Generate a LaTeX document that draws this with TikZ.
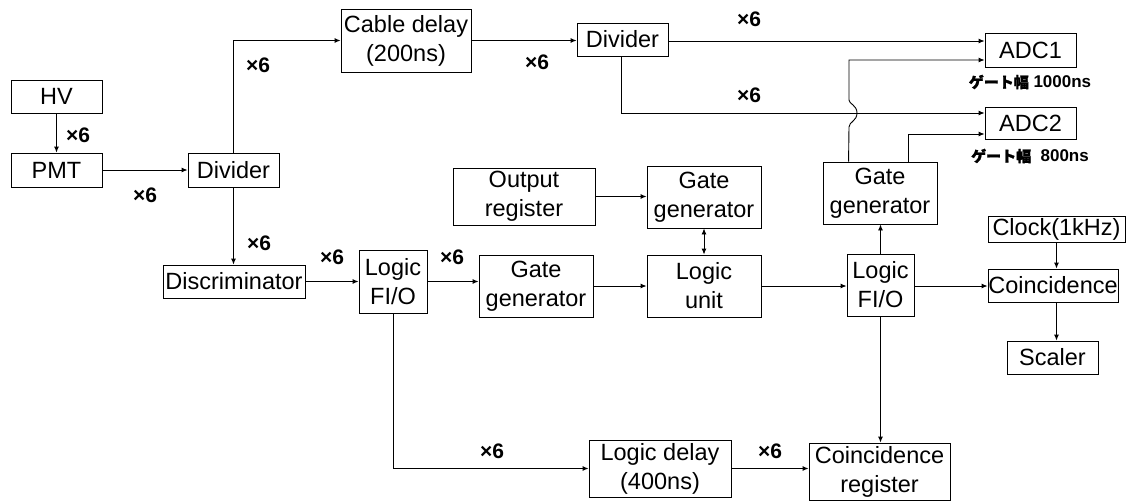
\documentclass[tikz,border=0pt]{standalone}
\usepackage{fontspec}
\setmainfont{Liberation Sans}
\newfontfamily\jp[FakeBold=1.5]{Noto Sans CJK JP}
\usetikzlibrary{arrows.meta,calc}
\newcommand{\jgate}{{\jp\fontsize{15}{17}\selectfont ゲート幅}}
\begin{document}
\begin{tikzpicture}[x=1pt,y=-1pt,
  box/.style={draw, line width=0.9pt, inner sep=0pt, align=center, font=\fontsize{23.5}{29}\selectfont},
  xsix/.style={font=\fontsize{21}{24}\selectfont\bfseries, inner sep=0pt},
  jlab/.style={font=\fontsize{17}{19}\selectfont\bfseries, inner sep=0pt},
  arr/.style={-{Latex[length=6pt,width=5pt]}, line width=0.9pt},
  ln/.style={line width=0.9pt}]
\useasboundingbox (0,0) rectangle (1128,501);
% boxes
\node[box, minimum width=91pt, minimum height=33pt] (HV) at (56.5,96.5) {HV};
\node[box, minimum width=91pt, minimum height=34pt] (PMT) at (56.5,170) {PMT};
\node[box, minimum width=91pt, minimum height=34pt] (Div1) at (233.5,170) {Divider};
\node[box, minimum width=142pt, minimum height=33pt] (Disc) at (234,281.5) {Discriminator};
\node[box, minimum width=68pt, minimum height=63pt] (FIO1) at (393,281.5) {Logic\\FI/O};
\node[box, minimum width=114pt, minimum height=62pt] (GG1) at (536,286) {Gate\\generator};
\node[box, minimum width=142pt, minimum height=57pt] (OutReg) at (524,196.5) {Output\\register};
\node[box, minimum width=114pt, minimum height=62pt] (GG2) at (704,197) {Gate\\generator};
\node[box, minimum width=114pt, minimum height=62pt] (LU) at (704,286) {Logic\\unit};
\node[box, minimum width=67pt, minimum height=62pt] (FIO2) at (880.5,285) {Logic\\FI/O};
\node[box, minimum width=114pt, minimum height=62pt] (GG3) at (880,193) {Gate\\generator};
\node[box, minimum width=137pt, minimum height=26pt] (Clock) at (1056.5,229) {Clock(1kHz)};
\node[box, minimum width=130pt, minimum height=33pt] (Coinc) at (1053,285.5) {Coincidence};
\node[box, minimum width=91pt, minimum height=33pt] (Scaler) at (1052.5,357.5) {Scaler};
\node[box, minimum width=130pt, minimum height=63pt] (CD) at (406,40.5) {Cable delay\\(200ns)};
\node[box, minimum width=91pt, minimum height=33pt] (Div2) at (622.5,39.5) {Divider};
\node[box, minimum width=91pt, minimum height=34pt] (ADC1) at (1030.5,50) {ADC1};
\node[box, minimum width=91pt, minimum height=32pt] (ADC2) at (1030.5,123) {ADC2};
\node[box, minimum width=142pt, minimum height=57pt] (LD) at (660,468.5) {Logic delay\\(400ns)};
\node[box, minimum width=141pt, minimum height=57pt] (CR) at (879.5,471.5) {Coincidence\\register};
% labels
\node[xsix] (l1) at (78,135) {×6};
\node[xsix] (l2) at (145,195) {×6};
\node[xsix] (l3) at (258,65) {×6};
\node[xsix] (l4) at (537,62) {×6};
\node[xsix] (l5) at (749,19) {×6};
\node[xsix] (l6) at (749,95) {×6};
\node[xsix] (l7) at (259,243) {×6};
\node[xsix] (l8) at (332,257) {×6};
\node[xsix] (l9) at (452,257) {×6};
\node[xsix] (l10) at (492,451) {×6};
\node[xsix] (l11) at (770,451) {×6};
\node[jlab] (j1) at (1030,82) {\jgate\ 1000ns};
\node[jlab] (j2) at (1030,156) {\jgate\ \ 800ns};
% connectors
\draw[arr] (HV.south) -- (PMT.north);
\draw[arr] (PMT.east) -- (Div1.west);
\draw[arr] (Div1.south) -- (Disc.north -| Div1.south);
\draw[arr] (Div1.north) |- (CD.west);
\draw[arr] (CD.east) -- (CD.east -| Div2.west);
\draw[arr] ($(Div2.east)+(0,1.5)$) -- ($(Div2.east -| ADC1.west)+(0,1.5)$);
\draw[arr] (Div2.south -| 621,0) |- ($(ADC2.west)+(0,-10)$);
\coordinate (g3a) at ($(GG3.north west)+(26,0)$);
\coordinate (g3b) at ($(GG3.north west)+(86,0)$);
\draw[arr] (g3a) -- (849,127) .. controls (849,122) and (857,121) .. (857,113)
  .. controls (857,105) and (849,104) .. (849,100) |- ($(ADC1.west)+(0,10)$);
\draw[arr] (g3b) |- ($(ADC2.west)+(0,11)$);
\draw[arr] (OutReg.east) -- (OutReg.east -| GG2.west);
\draw[arr, {Latex[length=6pt,width=5pt]}-{Latex[length=6pt,width=5pt]}] (GG2.south) -- (LU.north);
\draw[arr] (Disc.east) -- (Disc.east -| FIO1.west);
\draw[arr] (FIO1.east) -- (FIO1.east -| GG1.west);
\draw[arr] (GG1.east) -- (LU.west);
\draw[arr] (LU.east) -- (LU.east -| FIO2.west);
\draw[arr] (FIO2.north) -- (FIO2.north |- GG3.south);
\draw[arr] ($(FIO2.east)+(0,1)$) -- ($(FIO2.east -| Coinc.west)+(0,1)$);
\draw[arr] (Clock.south) -- (Clock.south |- Coinc.north);
\draw[arr] (Clock.south |- Coinc.south) -- (Clock.south |- Scaler.north);
\draw[arr] (FIO2.south) -- (FIO2.south |- CR.north);
\draw[arr] (FIO1.south) |- (LD.west);
\draw[arr] (LD.east) -- (LD.east -| CR.west);
\end{tikzpicture}
\end{document}
